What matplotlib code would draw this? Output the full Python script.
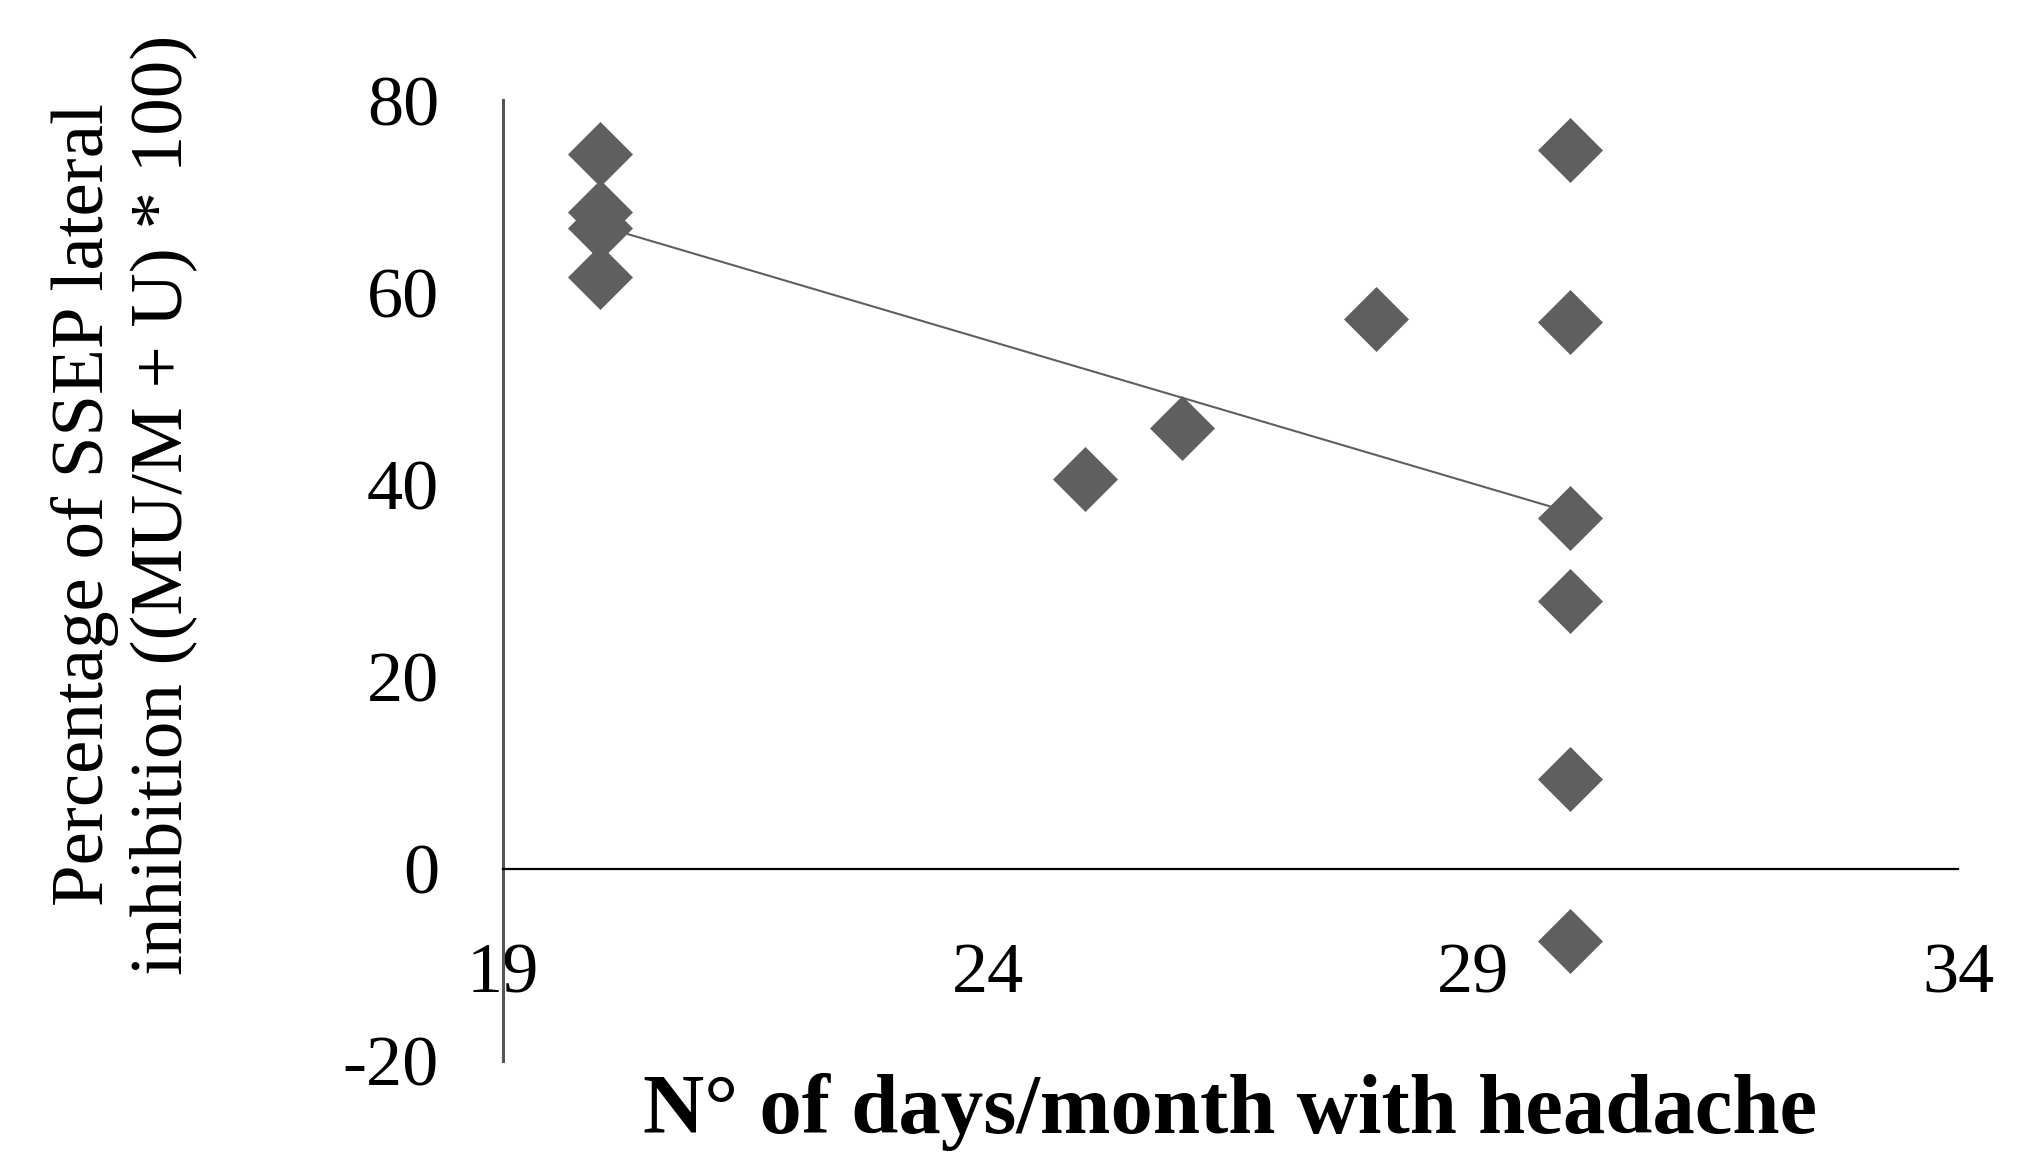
import numpy as np
import matplotlib.pyplot as plt

# days/month with headache vs. SSEP lateral inhibition (%)
days = [20, 20, 20, 20, 25, 26, 28, 30, 30, 30, 30, 30, 30]
inhibition = [74.4, 68.3, 66.7, 61.6, 40.6, 45.9, 57.2, 74.8, 56.9, 36.5, 27.9, 9.3, -7.5]

# linear trend line as drawn in the figure
trend_x = [20, 30]
trend_y = [66.9, 37.1]

x_ticks = [19, 24, 29, 34]
y_ticks = [-20, 0, 20, 40, 60, 80]

plt.rcParams["font.family"] = ["Liberation Serif", "DejaVu Serif"]
plt.rcParams["axes.unicode_minus"] = False

fig = plt.figure(figsize=(20.38, 11.52), dpi=100)
ax = fig.add_axes([503 / 2038, 91 / 1152, 1455 / 2038, 961 / 1152])

ax.plot(trend_x, trend_y, color="#5f5f5f", linewidth=1.5, zorder=2)
ax.plot(days, inhibition, linestyle="none", marker="D", markersize=33,
        color="#5f5f5f", markeredgecolor="#5f5f5f", markeredgewidth=0.5,
        zorder=3, clip_on=False)

ax.set_xlim(19, 34)
ax.set_ylim(-20, 80)
ax.set_xticks(x_ticks)
ax.set_yticks(y_ticks)

ax.spines["top"].set_visible(False)
ax.spines["right"].set_visible(False)
ax.spines["bottom"].set_position(("data", 0))
ax.spines["bottom"].set_color("black")
ax.spines["bottom"].set_linewidth(1.6)
ax.spines["left"].set_color("#555555")
ax.spines["left"].set_linewidth(2.2)

ax.tick_params(axis="x", length=0, pad=53, labelsize=52)
ax.tick_params(axis="y", length=0, pad=46, labelsize=52)

fig.text(124 / 2038, 1 - 505 / 1152,
         "Percentage of SSEP lateral\ninhibition ((MU/M + U) * 100)",
         rotation=90, ha="center", va="center", multialignment="center",
         fontsize=54, linespacing=1.2)
fig.text(1230 / 2038, 19 / 1152, "N\u00b0 of days/month with headache",
         ha="center", va="baseline", fontsize=61, fontweight="bold")

fig.savefig("out.png", dpi=100)
plt.close(fig)
